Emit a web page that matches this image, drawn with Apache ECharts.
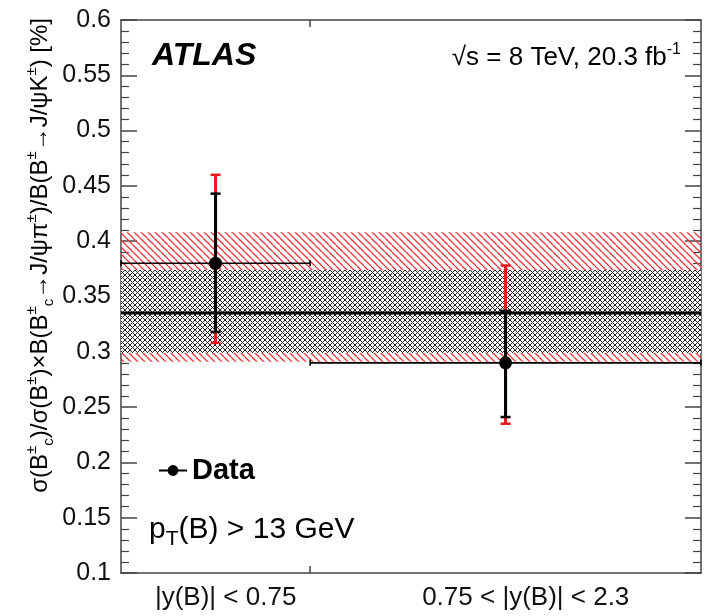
<!DOCTYPE html>
<html>
<head>
<meta charset="utf-8">
<script src="https://cdn.jsdelivr.net/npm/echarts@6/dist/echarts.min.js"></script>
<style>
  html, body { margin: 0; padding: 0; background: #fff; }
  #chart { width: 718px; height: 616px; }
</style>
</head>
<body>
<div id="chart"></div>
<script>
// Rapidity bins
const binLabels = ['|y(B)| < 0.75', '0.75 < |y(B)| < 2.3'];
const binLow = [0, 0.75];
const binHigh = [0.75, 2.3];

// Measured ratio [%] with statistical and total uncertainty ranges
const ratio = [0.380, 0.290];
const statLow = [0.318, 0.241];
const statHigh = [0.443, 0.337];
const totalLow = [0.308, 0.235];
const totalHigh = [0.460, 0.378];

// Prediction: central value, inner and outer bands
const predCentral = 0.335;
const predInner = [0.299, 0.374];
const predOuter = [0.291, 0.408];

const FONT = '"Liberation Sans", Arial, Helvetica, sans-serif';
const AXIS_COLOR = '#444';
const X_MIN = binLow[0];
const X_MAX = binHigh[binHigh.length - 1];

// Tile patterns for the hatched bands
function makeTile(size, draw) {
  const c = document.createElement('canvas');
  c.width = size; c.height = size;
  draw(c.getContext('2d'), size);
  return c;
}
const redHatch = makeTile(7, (ctx, s) => {
  ctx.strokeStyle = '#e8383d';
  ctx.lineWidth = 1.3;
  for (const k of [-s, 0, s]) {
    ctx.beginPath(); ctx.moveTo(k, 0); ctx.lineTo(k + s, s); ctx.stroke();
  }
});
const crossHatch = makeTile(5, (ctx, s) => {
  ctx.fillStyle = '#fff';
  ctx.fillRect(0, 0, s, s);
  ctx.strokeStyle = '#222';
  ctx.lineWidth = 1;
  for (const k of [-s, 0, s]) {
    ctx.beginPath(); ctx.moveTo(k, 0); ctx.lineTo(k + s, s); ctx.stroke();
    ctx.beginPath(); ctx.moveTo(k + s, 0); ctx.lineTo(k, s); ctx.stroke();
  }
});

function bandSeries(range, tile) {
  return {
    type: 'custom',
    silent: true,
    data: [[range[0], range[1]]],
    encode: { y: [0, 1] },
    z: 1,
    renderItem: (params, api) => {
      const p0 = api.coord([X_MIN, api.value(1)]);
      const p1 = api.coord([X_MAX, api.value(0)]);
      return {
        type: 'rect',
        shape: { x: p0[0], y: p0[1], width: p1[0] - p0[0], height: p1[1] - p0[1] },
        style: { fill: { image: tile, repeat: 'repeat' } }
      };
    }
  };
}

const dataRows = ratio.map((v, i) => [
  (binLow[i] + binHigh[i]) / 2, v, statLow[i], statHigh[i], totalLow[i], totalHigh[i], binLow[i], binHigh[i]
]);

function vLine(x, y1, y2, color, w) {
  return { type: 'line', shape: { x1: x, y1: y1, x2: x, y2: y2 }, style: { stroke: color, lineWidth: w } };
}
function hLine(x1, x2, y, color, w) {
  return { type: 'line', shape: { x1: x1, y1: y, x2: x2, y2: y }, style: { stroke: color, lineWidth: w } };
}

// Where the bin captions sit along the x axis
const binLabelPos = [0.415, 1.605];

const chart = echarts.init(document.getElementById('chart'), null, { renderer: 'canvas' });

const yAxisBase = {
  type: 'value', min: 0.1, max: 0.6, interval: 0.05,
  axisLine: { show: true, onZero: false, lineStyle: { color: AXIS_COLOR, width: 1.5 } },
  axisTick: { show: true, inside: true, length: 16, lineStyle: { color: AXIS_COLOR, width: 1.5 } },
  minorTick: { show: true, splitNumber: 5, length: 8, lineStyle: { color: AXIS_COLOR, width: 1.2 } },
  splitLine: { show: false }
};
const xAxisBase = {
  type: 'value', min: X_MIN, max: X_MAX,
  axisLine: { show: true, onZero: false, lineStyle: { color: AXIS_COLOR, width: 1.5 } },
  axisTick: { show: true, inside: true, length: 7, customValues: [binHigh[0]], lineStyle: { color: AXIS_COLOR, width: 1.5 } },
  splitLine: { show: false }
};

chart.setOption({
  animation: false,
  backgroundColor: '#fff',
  grid: { left: 121, right: 17, top: 20, bottom: 43 },
  xAxis: [
    Object.assign({}, xAxisBase, {
      position: 'bottom',
      axisLabel: {
        customValues: binLabelPos,
        formatter: v => binLabels[v < binHigh[0] ? 0 : 1],
        fontFamily: FONT, fontSize: 26, color: '#111', margin: 12
      }
    }),
    Object.assign({}, xAxisBase, { position: 'top', axisLabel: { show: false } })
  ],
  yAxis: [
    Object.assign({}, yAxisBase, {
      position: 'left',
      axisLabel: { fontFamily: FONT, fontSize: 25, color: '#111', margin: 10, formatter: v => String(+v.toFixed(2)) }
    }),
    Object.assign({}, yAxisBase, { position: 'right', axisLabel: { show: false } })
  ],
  legend: {
    left: 154, top: 451,
    itemWidth: 28, itemHeight: 12, itemGap: 4,
    textStyle: { fontFamily: FONT, fontSize: 29, fontWeight: 'bold', color: '#000' },
    data: [{
      name: 'Data',
      icon: 'path://M0,9 L8.1,9 A5,5 0 0 1 17.9,9 L26,9 L26,11 L17.9,11 A5,5 0 0 1 8.1,11 L0,11 Z',
      itemStyle: { color: '#000' }
    }]
  },
  series: [
    bandSeries(predOuter, redHatch),
    bandSeries(predInner, crossHatch),
    {
      type: 'custom', silent: true, z: 2,
      data: [[predCentral]],
      encode: { y: 0 },
      renderItem: (params, api) => {
        const a = api.coord([X_MIN, api.value(0)]);
        const b = api.coord([X_MAX, api.value(0)]);
        return hLine(a[0], b[0], a[1], '#000', 3);
      }
    },
    {
      name: 'Data',
      type: 'custom', z: 3,
      itemStyle: { color: '#000' },
      data: dataRows,
      encode: { x: 0, y: 1 },
      renderItem: (params, api) => {
        const xc = api.value(0), v = api.value(1);
        const c = api.coord([xc, v]);
        const left = api.coord([api.value(6), v]);
        const right = api.coord([api.value(7), v]);
        const sLo = api.coord([xc, api.value(2)])[1];
        const sHi = api.coord([xc, api.value(3)])[1];
        const tLo = api.coord([xc, api.value(4)])[1];
        const tHi = api.coord([xc, api.value(5)])[1];
        const cap = 5;
        return {
          type: 'group',
          children: [
            hLine(left[0], right[0], c[1], '#000', 1.6),
            vLine(left[0], c[1] - 3, c[1] + 3, '#000', 1.6),
            vLine(right[0], c[1] - 3, c[1] + 3, '#000', 1.6),
            vLine(c[0], tHi, tLo, '#e8161b', 3),
            hLine(c[0] - cap, c[0] + cap, tHi, '#e8161b', 2.5),
            hLine(c[0] - cap, c[0] + cap, tLo, '#e8161b', 2.5),
            vLine(c[0], sHi, sLo, '#000', 3),
            hLine(c[0] - cap, c[0] + cap, sHi, '#000', 2.5),
            hLine(c[0] - cap, c[0] + cap, sLo, '#000', 2.5),
            { type: 'circle', shape: { cx: c[0], cy: c[1], r: 6.5 }, style: { fill: '#000' } }
          ]
        };
      }
    }
  ],
  graphic: [
    {
      type: 'text', x: 152, y: 56,
      style: { text: 'ATLAS', font: 'italic bold 32px ' + FONT, fill: '#000', textVerticalAlign: 'middle' }
    },
    {
      type: 'text', x: 681, y: 58,
      style: {
        text: '{a|√s = 8 TeV, 20.3 fb}{s|-1}',
        textAlign: 'right', textVerticalAlign: 'middle',
        rich: {
          a: { fontFamily: FONT, fontSize: 26, color: '#111', lineHeight: 32, verticalAlign: 'middle' },
          s: { fontFamily: FONT, fontSize: 16, color: '#111', lineHeight: 32, verticalAlign: 'top' }
        }
      }
    },
    {
      type: 'text', x: 149, y: 530,
      style: {
        text: '{a|p}{s|T}{a|(B) > 13 GeV}',
        textVerticalAlign: 'middle',
        rich: {
          a: { fontFamily: FONT, fontSize: 30, color: '#111', lineHeight: 40, verticalAlign: 'middle' },
          s: { fontFamily: FONT, fontSize: 21, color: '#111', lineHeight: 40, verticalAlign: 'bottom' }
        }
      }
    },
    {
      type: 'text', x: 40, y: 18, rotation: Math.PI / 2,
      style: {
        text: '{a|σ(B}{p|±}{b|c}{a|)/σ(B}{p|±}{a|)×B(B}{p|±}{b|c}{a|→J/ψπ}{p|±}{a|)/B(B}{p|±}{a|→J/ψK}{p|±}{a|) [%]}',
        textAlign: 'right', textVerticalAlign: 'middle',
        rich: {
          a: { fontFamily: FONT, fontSize: 24, color: '#111', lineHeight: 32, verticalAlign: 'middle' },
          p: { fontFamily: FONT, fontSize: 15, color: '#111', lineHeight: 32, verticalAlign: 'top' },
          b: { fontFamily: FONT, fontSize: 15, color: '#111', lineHeight: 32, verticalAlign: 'bottom' }
        }
      }
    }
  ]
});
</script>
</body>
</html>
